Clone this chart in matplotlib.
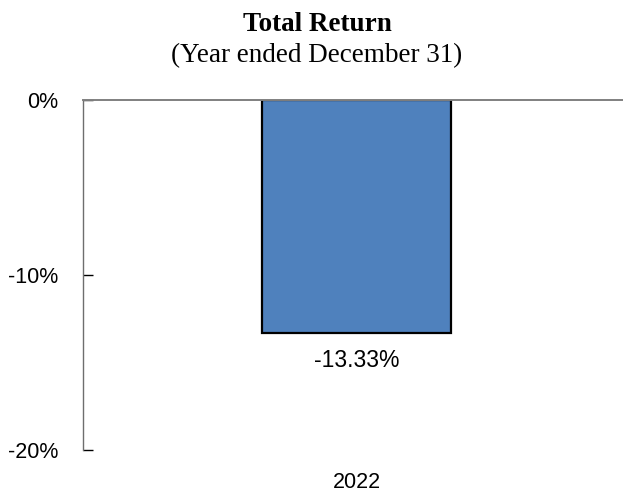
import matplotlib
matplotlib.use("Agg")
import matplotlib.pyplot as plt

years = ["2022"]
returns = [-13.33]
yticks = [0, -10, -20]
ytick_labels = ["0%", "-10%", "-20%"]

fig = plt.figure(figsize=(6.23, 4.92), dpi=100)
ax = fig.add_axes([83/623, 1 - 450/492, (630 - 83)/623, 350/492])

x = list(range(len(years)))
ax.bar(x, returns, width=0.345, color="#4F81BD", edgecolor="black", linewidth=1.6, zorder=2)
ax.set_xlim(-0.5, 0.5)
ax.set_ylim(-20, 0)

ax.axhline(0, color="#808080", linewidth=1.4, zorder=3, clip_on=False)

for s in ["top", "right", "bottom"]:
    ax.spines[s].set_visible(False)
ax.spines["left"].set_color("#6e6e6e")
ax.spines["left"].set_linewidth(1.0)

ax.set_yticks(yticks)
ax.set_yticklabels(ytick_labels, fontsize=15.5, family="Liberation Sans")
ax.tick_params(axis="y", direction="in", length=7, width=1.0, color="black", pad=18)
ax.set_xticks(x)
ax.set_xticklabels(years, fontsize=15.5, family="Liberation Sans")
ax.tick_params(axis="x", length=0, pad=16)

for xi, v in zip(x, returns):
    ax.annotate(f"{v:.2f}%", xy=(xi, v), xytext=(0, -11), textcoords="offset points",
                ha="center", va="top", fontsize=16.5, family="Liberation Sans")

fig.text(317/623, 1 - 31/492, "Total Return", ha="center", va="baseline",
         fontsize=19.5, fontweight="bold", family="Liberation Serif")
fig.text(317/623, 1 - 62/492, "(Year ended December 31)", ha="center", va="baseline",
         fontsize=19.5, family="Liberation Serif")

fig.savefig("out.png", dpi=100)
